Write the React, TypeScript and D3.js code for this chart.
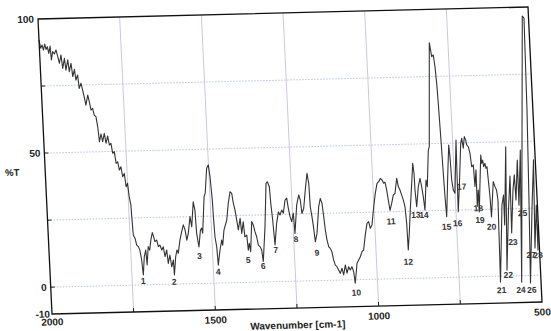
import React from 'react';
import * as d3 from 'd3';

// IR spectrum (wavenumber in cm-1, %T)
const wavenumber = [
  2000, 1996, 1991.5, 1988, 1983, 1980, 1975.6, 1972, 1967, 1965, 1960, 1955, 1949.5, 1945, 1941, 1935,
  1931.6, 1925, 1922, 1915, 1912, 1905.5, 1902, 1896, 1893, 1887, 1884, 1878, 1874, 1870, 1866, 1859,
  1855, 1851, 1846, 1842, 1837, 1833, 1830, 1824, 1820, 1814, 1810, 1804, 1800, 1795, 1791, 1786,
  1782, 1777, 1773, 1768, 1764, 1758.5, 1755, 1750, 1747, 1743, 1742, 1740, 1735, 1731, 1726, 1722,
  1718, 1715, 1709.5, 1704, 1702, 1696, 1692, 1687, 1681.5, 1678, 1675, 1669, 1665, 1660, 1655, 1650,
  1646, 1640, 1637, 1631, 1627, 1621, 1620, 1613.5, 1608.5, 1605, 1598, 1591.5, 1585.6, 1581, 1577, 1571.5,
  1564, 1560, 1552, 1548, 1546, 1541, 1534, 1530, 1527.5, 1518, 1514, 1506, 1500.5, 1497, 1493.3, 1492.3,
  1490.4, 1486.6, 1484.4, 1477, 1470.4, 1468, 1462, 1457, 1452, 1445, 1438, 1433, 1429.6, 1425.4, 1421.6, 1418,
  1411, 1408, 1402, 1399, 1393, 1390.5, 1386.5, 1383.4, 1376, 1371.6, 1367.4, 1363, 1359, 1354, 1349.5, 1346.3,
  1336, 1326.7, 1322.5, 1317, 1315, 1311.6, 1308, 1300, 1293, 1288.5, 1282.6, 1278, 1271, 1265.6, 1262, 1258,
  1253.7, 1247.6, 1245.3, 1236, 1228.4, 1224.3, 1221, 1215, 1207.5, 1200, 1196, 1194.7, 1191, 1187.4, 1184.4, 1178,
  1169, 1163, 1158.4, 1155, 1152, 1148.4, 1144, 1139.5, 1135, 1131, 1126.7, 1121.7, 1117, 1112.6, 1106.7, 1102.4,
  1096, 1092, 1086, 1081.5, 1076, 1071.4, 1068.2, 1060, 1054.4, 1049, 1043, 1037.7, 1030.6, 1023.7, 1018.3, 1014.3,
  1008.7, 1000.8, 994, 987.3, 982, 976.5, 971.5, 966.8, 962.7, 958.6, 955.2, 951.4, 945.3, 939.2, 933.7, 926.4,
  922.7, 918, 913.5, 909.3, 905.1, 902.3, 901.3, 895.8, 889.4, 881.2, 875.3, 872.7, 872.1, 869.3, 861.5, 855.1,
  851.1, 847.7, 844.4, 837, 834, 825.6, 822.1, 807, 801.7, 796.6, 793.1, 790.3, 788.3, 786.5, 784.7, 783.1,
  781.3, 779, 770.2, 762.5, 760.3, 758.4, 755, 750.3, 739.5, 741.3, 742.9, 734.9, 725.6, 721.8, 718.4, 713.6,
  709.8, 707.5, 702.9, 698.6, 695.4, 690.2, 688.2, 682.7, 683.9, 678.6, 678.7, 666.1, 664.3, 660.8, 658.7, 654.2,
  651.9, 648.6, 646.5, 643.7, 642.1, 631.5, 627, 622.9, 619.8, 624, 608.3, 602.2, 602.9, 588.5, 602.4, 589.1,
  579.6, 582.7, 572.5, 566.3, 564.7, 555, 556.3, 544.3, 559.2, 518.8, 513.9, 518, 525, 532.4, 517.3, 505.4,
  513.6, 503.4, 504.7, 500,
];

const transmittance = [
  92.2, 89.1, 90.3, 88.4, 90.6, 88.6, 89.6, 87.1, 89.8, 84.6, 87.7, 86.8, 88.3, 85.8, 83.3, 86.4,
  81.4, 85.1, 80.7, 84.5, 80.1, 83.2, 78.2, 80.9, 76.9, 78.8, 73.8, 75.7, 73.2, 70.6, 67.5, 71.2,
  68.7, 65.6, 66.2, 63.7, 63.1, 59.3, 53.7, 56.6, 53.7, 56.8, 53.1, 55.8, 52.4, 53, 49.3, 49.9,
  45.5, 46.1, 43, 44.2, 40.5, 41.7, 36.7, 38, 33, 29.9, 25.5, 18.7, 17.4, 14.9, 14.3, 13,
  9.3, 3.7, 10.5, 13, 7.4, 14.2, 12.9, 16.7, 19.4, 17.9, 16, 16.6, 14.1, 14.7, 12.8, 14,
  10.3, 12.8, 7.8, 10.9, 6.5, 9, 3.4, 10.2, 12.7, 11.5, 16.4, 19.5, 22, 20.1, 16.3, 18.8,
  25, 21.2, 30.5, 27.4, 18.7, 13.6, 19.9, 20.6, 18.7, 32.3, 33.6, 42.9, 44.1, 39.7, 31, 24.3,
  17.2, 13.6, 6.7, 12.3, 16, 14.1, 19.7, 21.6, 23.4, 29.6, 33.9, 33.3, 29.6, 27.1, 23.3, 19.6,
  23.9, 18.3, 22.6, 17, 17.6, 12, 14.5, 11.4, 22.6, 21.3, 18.8, 16.9, 13.8, 13.2, 11.9, 7.6,
  20.6, 36.7, 37.3, 35.4, 29.2, 23, 13.7, 21.7, 26, 24.8, 26.6, 25.4, 30.3, 31, 27.2, 24.1,
  22.2, 25.3, 17.8, 28.4, 32.1, 30.2, 25.2, 27.1, 33.9, 40.1, 36.3, 27.6, 23.9, 19.5, 14.5, 17.6,
  27.5, 30.6, 28.8, 23.8, 18.8, 15.1, 12.5, 11.9, 10.6, 7.5, 5.7, 5, 3.8, 2.5, 4.4, 1.9,
  5.6, 2.5, 4.9, 3.7, 4.9, 3, -1.3, 6.1, 7.3, 8.5, 10.4, 11, 16.6, 20.9, 21.5, 19,
  20.2, 27, 32, 35.7, 36.3, 37.5, 36.9, 35.7, 36.1, 33.1, 29.4, 25.5, 28.1, 31.2, 31.8, 37.4,
  34.3, 33, 31.1, 29.3, 26.7, 20.5, 10.6, 16.8, 25.5, 35.4, 42.8, 39.1, 32.9, 26.6, 34.1, 37.2,
  34, 30.3, 25.3, 36.5, 34, 47.6, 48.9, 87.6, 82.4, 83, 78.6, 72.4, 65, 56.2, 47.5, 38.8,
  30.1, 22.6, 37.5, 49.3, 45, 36.3, 32.5, 31.3, 51.1, 38.7, 24.4, 35.4, 49.8, 51.7, 48, 52.3,
  51, 49.2, 48.5, 46, 41, 41.7, 33.6, 39.8, 26.3, 32.3, 24.1, 45.3, 42.2, 43.4, 40.9, 42.2,
  40.3, 40.9, 35.9, 29.7, 22.1, 35.3, 33.4, 32.1, 28.4, -2.2, 26.5, 30.2, 19, 48.1, 2.2, 24.6,
  37.2, 16, 32, 37.6, 28.2, 43.1, 26.3, 46.8, -2.4, 96.7, 95.9, 61.6, 28.1, -2.8, 24.4, 43,
  10.2, 26.2, 9.4, 19,
];

// peak numbers and where their labels sit
const peakLabels = ['1', '2', '3', '4', '5', '6', '7', '8', '9', '10', '11', '12', '13', '14',
  '15', '16', '17', '18', '19', '20', '21', '22', '23', '24', '25', '26', '27', '28'];
const peakLabelWn = [1716, 1621.4, 1540.6, 1485.4, 1392, 1347, 1306.7, 1243.1, 1180.8, 1066.5, 950, 903, 872.7, 848.2,
  780.5, 746.4, 728.8, 681.2, 677.7, 642.9, 621.5, 599.2, 580, 562.5, 546.7, 528.9, 526.8, 505.4];
const peakLabelT = [1.5, 0.9, 10.3, 4.2, 8.3, 6, 11.8, 15.6, 10.4, -4.8, 21.4, 6.2, 23.6, 23.5,
  18.9, 20.1, 33.7, 25.5, 21.1, 18.5, -5.2, 0.4, 12.6, -5.3, 23.3, -5.4, 7.6, 7.5];

const yTicks = [100, 50, 0, -10];
const xTicks = [2000, 1500, 1000, 500];
const gridT = [75, 50, 25, 0];
const gridWn = [1750, 1500, 1250, 1000, 750];

const W = 490;
const H = 295;
const font = '"Liberation Sans", Arial, sans-serif';

export default function App() {
  const x = d3.scaleLinear().domain([2000, 500]).range([0, W]);
  const y = d3.scaleLinear().domain([-10, 100]).range([H, 0]);

  const line = d3.line<number>()
    .x(i => x(wavenumber[i]))
    .y(i => y(transmittance[i]));
  const d = line(d3.range(wavenumber.length)) || '';

  // the scan is slightly skewed: map the plot frame onto it
  const skew = `matrix(1,${-12 / W},${14 / H},1,38,19)`;

  return (
    <svg width={551} height={331} style={{ position: 'absolute', left: 0, top: 0, background: '#fff' }}>
      <rect width={551} height={331} fill="#fff" />
      <g transform={skew} fontFamily={font} fontWeight="bold" fill="#222">
        {gridT.map(t => (
          <line key={'gt' + t} x1={0} x2={W} y1={y(t)} y2={y(t)}
            stroke="#a9b3dc" strokeWidth={0.8} strokeDasharray="1.5,1.5" />
        ))}
        {gridWn.map(w => (
          <line key={'gw' + w} x1={x(w)} x2={x(w)} y1={0} y2={H}
            stroke="#c6b6d6" strokeWidth={0.8} />
        ))}
        {gridT.map(t => (
          <line key={'tt' + t} x1={0} x2={4} y1={y(t)} y2={y(t)} stroke="#222" strokeWidth={1} />
        ))}
        {gridWn.map(w => (
          <line key={'tw' + w} x1={x(w)} x2={x(w)} y1={H} y2={H - 4} stroke="#222" strokeWidth={1} />
        ))}

        <path d={d} fill="none" stroke="#333" strokeWidth={1.1} strokeLinejoin="round" />

        <rect x={0} y={0} width={W} height={H} fill="none" stroke="#111" strokeWidth={1.3} />

        {yTicks.map(t => (
          <text key={'yl' + t} x={t === -10 ? -2 : -4} y={y(t) + 3.5} fontSize={10} textAnchor="end">{t}</text>
        ))}
        {xTicks.map(w => (
          <text key={'xl' + w} x={x(w)} y={H + (w === 2000 ? 11.5 : 13.5)} fontSize={10} textAnchor="middle">{w}</text>
        ))}
        <text x={-33} y={156} fontSize={9.5} textAnchor="middle">%T</text>
        <text x={W / 2} y={H + 20.5} fontSize={10} textAnchor="middle">Wavenumber [cm-1]</text>

        {peakLabels.map((p, i) => (
          <text key={'p' + p} x={x(peakLabelWn[i])} y={y(peakLabelT[i])} dy="0.35em"
            fontSize={8.5} textAnchor="middle" fill="#333">{p}</text>
        ))}
      </g>
    </svg>
  );
}
